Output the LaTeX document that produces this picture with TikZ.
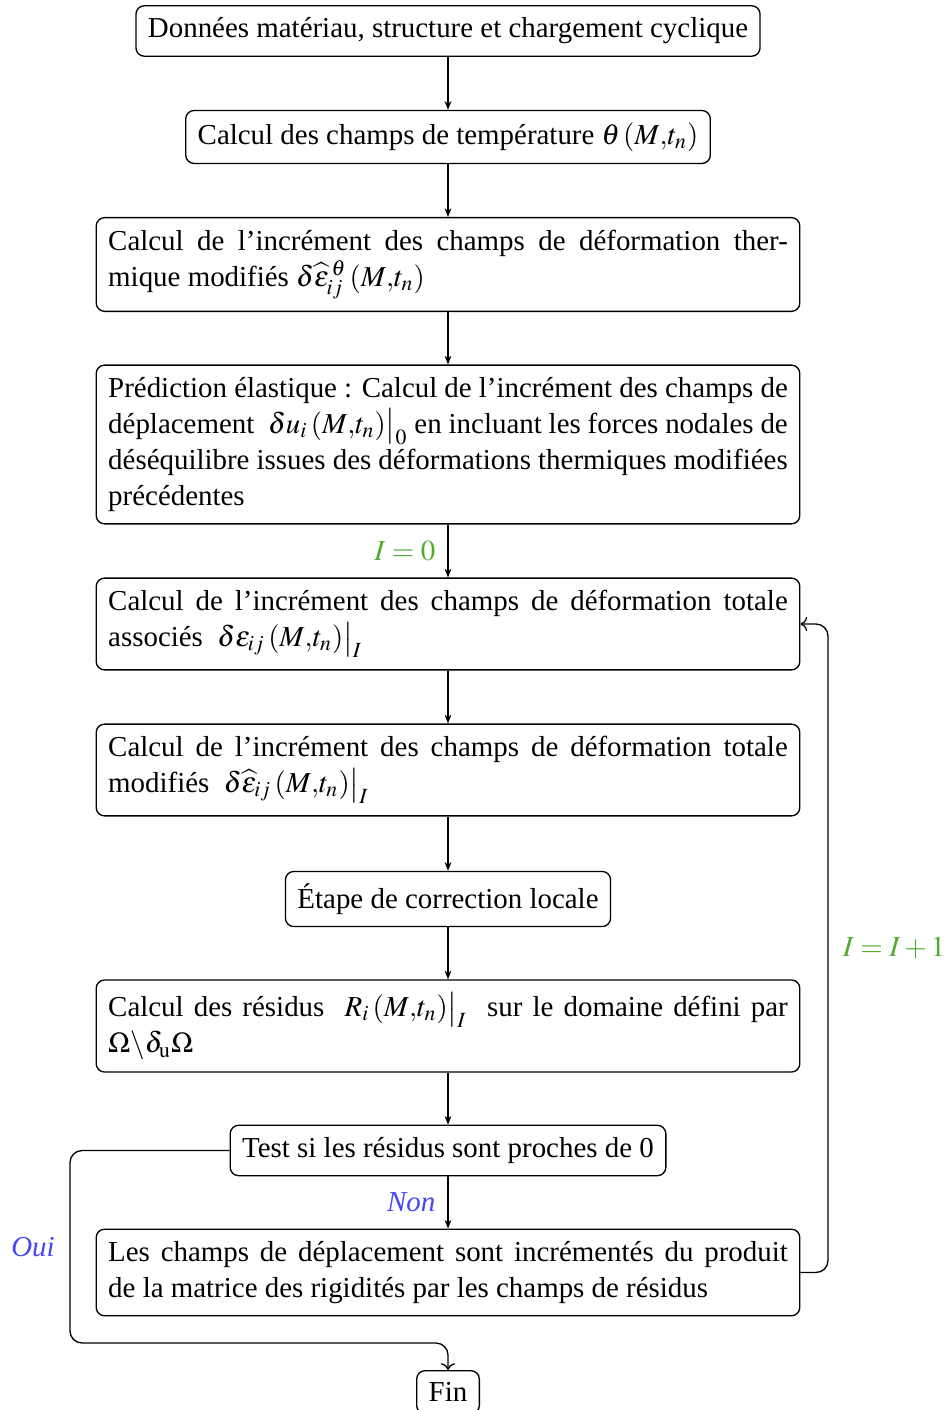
\documentclass[tikz,border=0pt]{standalone}
\usepackage{mathptmx}
\usepackage[no-math]{fontspec}
\setmainfont{Liberation Serif}
\usetikzlibrary{calc,arrows.meta}
\definecolor{lblgreen}{RGB}{80,172,45}
\definecolor{lblblue}{RGB}{70,70,245}
\tikzset{
  box/.style={draw, rounded corners=3.5pt, inner sep=5pt, line width=0.55pt,
    font=\fontsize{12}{15}\selectfont},
  widebox/.style={box, text width=282pt, align=justify},
  conn/.style={-{Stealth[length=3.6pt, width=2.8pt, inset=1.1pt]}, line width=0.55pt},
  loopconn/.style={->, line width=0.55pt, rounded corners=5pt},
  glabel/.style={text=lblgreen, font=\fontsize{12}{15}\selectfont, inner sep=1pt},
  blabel/.style={text=lblblue, font=\fontsize{12}{15}\selectfont\itshape, inner sep=1pt},
}
\begin{document}
\begin{tikzpicture}[x=0.415pt, y=-0.415pt]
\useasboundingbox (0,0) rectangle (948,1410);
\node[box] (n1) at (448,31) {Données matériau, structure et chargement cyclique};
\node[box] (n2) at (448,137) {Calcul des champs de température $\theta\left(M{,}t_n\right)$};
\node[widebox] (n3) at (448,264.5) {Calcul de l’incrément des champs de déformation ther-\linebreak mique modifiés $\delta\widehat{\varepsilon}^{\,\theta}_{ij}\left(M{,}t_n\right)$};
\node[widebox] (n4) at (448,444.5) {Prédiction élastique : Calcul de l’incrément des champs de\linebreak déplacement \ $\delta u_i\left(M{,}t_n\right)\bigr|_0$ en incluant les forces nodales de\linebreak déséquilibre issues des déformations thermiques modifiées\linebreak précédentes};
\node[widebox] (n5) at (448,624) {Calcul de l’incrément des champs de déformation totale\linebreak associés \ $\delta\varepsilon_{ij}\left(M{,}t_n\right)\bigr|_I$};
\node[widebox] (n6) at (448,770) {Calcul de l’incrément des champs de déformation totale\linebreak modifiés \ $\delta\widehat{\varepsilon}_{ij}\left(M{,}t_n\right)\bigr|_I$};
\node[box] (n7) at (448,899) {Étape de correction locale};
\node[widebox] (n8) at (448,1026) {Calcul des résidus \ $R_i\left(M{,}t_n\right)\bigr|_I$ \ sur le domaine défini par\linebreak $\Omega\backslash\delta_{\mathrm{u}}\Omega$};
\node[box] (n9) at (448,1150.5) {Test si les résidus sont proches de 0};
\node[widebox] (n10) at (448,1272.5) {Les champs de déplacement sont incrémentés du produit\linebreak de la matrice des rigidités par les champs de résidus};
\node[box, anchor=north] (n11) at (448,1370) {Fin};

\draw[conn] (n1) -- (n2);
\draw[conn] (n2) -- (n3);
\draw[conn] (n3) -- (n4);
\draw[conn] (n4) -- node[glabel, left=4pt] (l1) {$I=0$} (n5);
\draw[conn] (n5) -- (n6);
\draw[conn] (n6) -- (n7);
\draw[conn] (n7) -- (n8);
\draw[conn] (n8) -- (n9);
\draw[conn] (n9) -- node[blabel, left=4pt, pos=0.5] (l2) {Non} (n10);

\coordinate (r) at (828,948);
\draw[loopconn] (n10.east) -- (n10.east -| r) -- (n5.east -| r) -- (n5.east);
\node[glabel, anchor=west] (l3) at (840,948) {$I=I+1$};

\coordinate (b) at (70,1343);
\draw[loopconn] (n9.west) -- (n9.west -| b) -- (b) -- (b -| n11.north) -- (n11.north);
\node[blabel] (l4) at (33,1247) {Oui};
\end{tikzpicture}
\end{document}
